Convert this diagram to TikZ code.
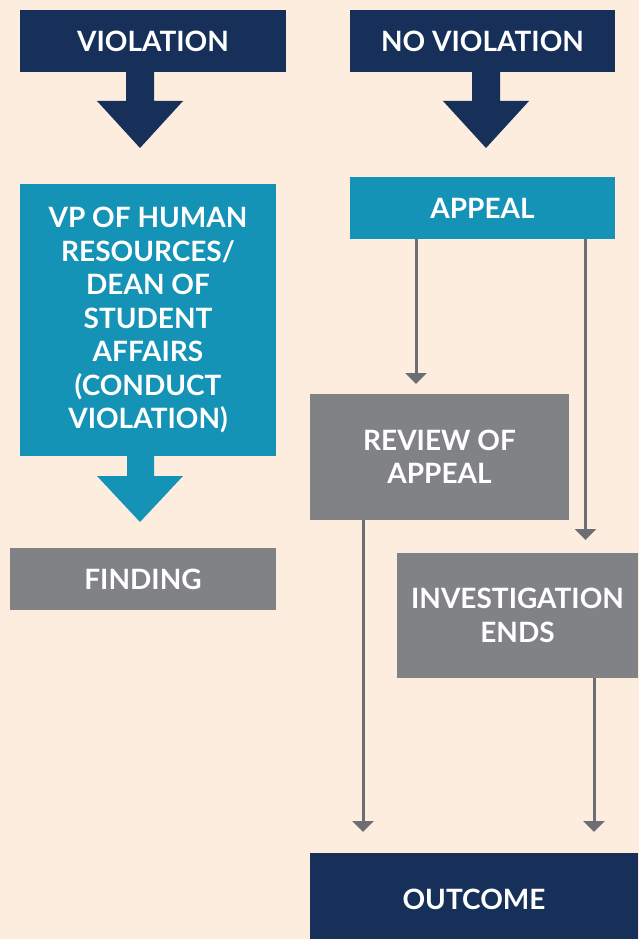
\documentclass[tikz,border=0pt]{standalone}
\usepackage{fontspec}
\setmainfont{Lato}
\usetikzlibrary{arrows.meta}
\definecolor{bgc}{HTML}{FDEDDF}
\definecolor{navyc}{HTML}{16305A}
\definecolor{tealc}{HTML}{1493B6}
\definecolor{grayc}{HTML}{808285}
\definecolor{linec}{HTML}{6D6E74}
\begin{document}
\begin{tikzpicture}[x=1pt,y=-1pt,
  box/.style={rectangle,inner sep=0pt,text=white,align=center,
    font=\bfseries\fontsize{28}{33.5}\selectfont},
  navybox/.style={box,fill=navyc},
  tealbox/.style={box,fill=tealc},
  graybox/.style={box,fill=grayc},
  conn/.style={draw=linec,line width=3pt,-{Triangle[width=21pt,length=11pt]}}]
\fill[bgc] (0,0) rectangle (639,939);
\useasboundingbox (0,0) rectangle (639,939);
% boxes
\node[navybox,minimum width=266pt,minimum height=62pt] (viol) at (153,41) {VIOLATION};
\node[navybox,minimum width=265pt,minimum height=62pt] (noviol) at (482.5,41) {NO VIOLATION};
\node[tealbox,minimum width=256pt,minimum height=272pt] (vp) at (148,320)
  {VP OF HUMAN\\RESOURCES/\\DEAN OF\\STUDENT\\AFFAIRS\\(CONDUCT\\VIOLATION)};
\node[tealbox,minimum width=265pt,minimum height=62pt] (appeal) at (482.5,208) {APPEAL};
\node[graybox,minimum width=266pt,minimum height=62pt] (finding) at (143,579) {FINDING};
\node[graybox,minimum width=259pt,minimum height=126pt] (review) at (439.5,457) {REVIEW OF\\APPEAL};
\node[graybox,minimum width=241pt,minimum height=125pt] (invest) at (517.5,615.5) {INVESTIGATION\\ENDS};
\node[navybox,minimum width=328pt,minimum height=92pt] (outcome) at (474,899) {OUTCOME};
% block arrows
\fill[navyc] (viol.south -| 126,0) -- (126,101) -- (97,101) -- (140,148) -- (183,101) -- (154,101) -- (viol.south -| 154,0) -- cycle;
\fill[navyc] (noviol.south -| 472,0) -- (472,101) -- (443,101) -- (486,148) -- (529,101) -- (500,101) -- (noviol.south -| 500,0) -- cycle;
\fill[tealc] (vp.south -| 127,0) -- (127,476) -- (97,476) -- (140,522) -- (183,476) -- (154,476) -- (vp.south -| 154,0) -- cycle;
% connectors
\coordinate (t1) at (416,384);
\coordinate (t2) at (585.5,540);
\coordinate (t3) at (363,832);
\coordinate (t4) at (594,832);
\draw[conn] (appeal.south -| t1) -- (t1);
\draw[conn] (appeal.south -| t2) -- (t2);
\draw[conn] (review.south -| t3) -- (t3);
\draw[conn] (invest.south -| t4) -- (t4);
\end{tikzpicture}
\end{document}
